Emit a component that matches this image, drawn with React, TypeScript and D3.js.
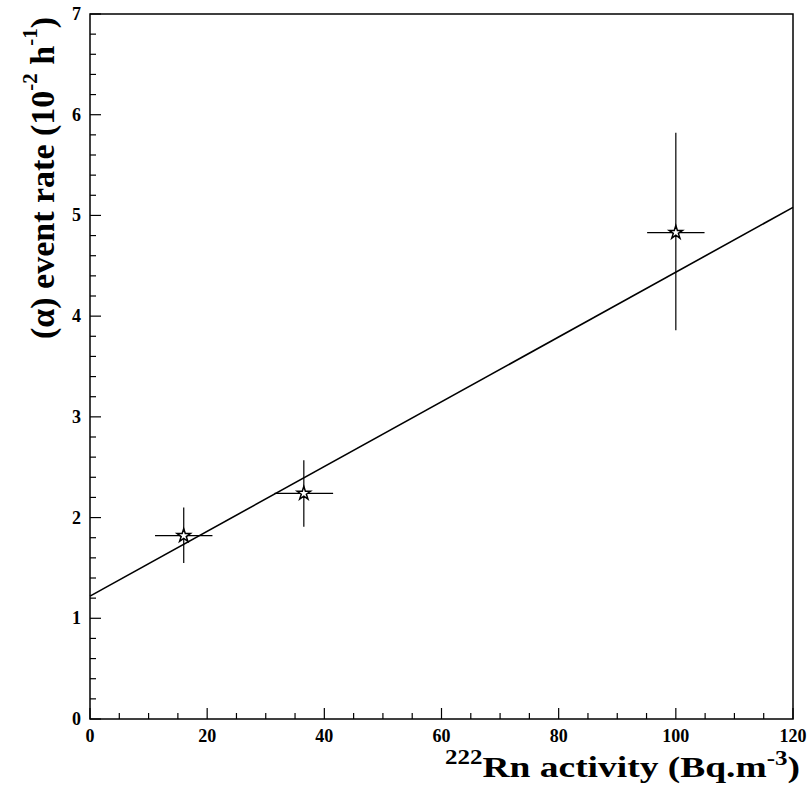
import * as d3 from 'd3'

const W = 808
const H = 797
const X0 = 90
const X1 = 793
const Y0 = 719
const Y1 = 14

// Data
const rnActivity = [16, 36.5, 100]
const rnErr = [4.9, 5, 4.9]
const eventRate = [1.82, 2.24, 4.83]
const rateLow = [1.55, 1.91, 3.86]
const rateHigh = [2.1, 2.57, 5.82]
const fitX = [0, 120]
const fitY = [1.22, 5.08]
const xTicks = [0, 20, 40, 60, 80, 100, 120]
const yTicks = [0, 1, 2, 3, 4, 5, 6, 7]

const FONT = '"Liberation Serif", "DejaVu Serif", serif'

const x = d3.scaleLinear().domain([0, 120]).range([X0, X1])
const y = d3.scaleLinear().domain([0, 7]).range([Y0, Y1])

export default function App() {
  const xMinor = d3.range(0, 120.001, 5)
  const yMinor = d3.range(0, 7.001, 0.2)
  const star = d3.symbol(d3.symbolStar, 55)()
  const line = d3.line<number>().x((d, i) => x(fitX[i])).y((d) => y(d))

  return (
    <svg width={W} height={H} style={{ position: 'absolute', left: 0, top: 0, background: '#fff' }}>
      {/* frame */}
      <rect x={X0} y={Y1} width={X1 - X0} height={Y0 - Y1} fill="none" stroke="#000" strokeWidth={1.5} />

      {/* x ticks (inward) */}
      {xMinor.map((v) => {
        const major = v % 20 === 0
        return (
          <line key={'xm' + v} x1={x(v)} x2={x(v)} y1={Y0} y2={Y0 - (major ? 11 : 6)} stroke="#000" strokeWidth={1.2} />
        )
      })}
      {/* y ticks (inward) */}
      {yMinor.map((v, i) => {
        const major = i % 5 === 0
        return (
          <line key={'ym' + i} x1={X0} x2={X0 + (major ? 11 : 6)} y1={y(v)} y2={y(v)} stroke="#000" strokeWidth={1.2} />
        )
      })}

      {/* tick labels */}
      {xTicks.map((v) => (
        <text key={'xl' + v} x={x(v)} y={742} textAnchor="middle" fontFamily={FONT} fontWeight="bold" fontSize={18}>
          {v}
        </text>
      ))}
      {yTicks.map((v) => (
        <text key={'yl' + v} x={81} y={y(v) + 6} textAnchor="end" fontFamily={FONT} fontWeight="bold" fontSize={18}>
          {v}
        </text>
      ))}

      {/* fit line */}
      <path d={line(fitY) || ''} fill="none" stroke="#000" strokeWidth={1.6} />

      {/* error bars and markers */}
      {rnActivity.map((v, i) => (
        <g key={'pt' + i}>
          <line x1={x(v - rnErr[i])} x2={x(v + rnErr[i])} y1={y(eventRate[i])} y2={y(eventRate[i])} stroke="#000" strokeWidth={1.2} />
          <line x1={x(v)} x2={x(v)} y1={y(rateLow[i])} y2={y(rateHigh[i])} stroke="#000" strokeWidth={1.2} />
          <path d={star || ''} transform={`translate(${x(v)},${y(eventRate[i])})`} fill="#fff" stroke="#000" strokeWidth={1.5} />
        </g>
      ))}

      {/* y title */}
      <text transform="translate(54,178) rotate(-90)" textAnchor="middle" fontFamily={FONT} fontWeight="bold" fontSize={34}>
        (α) event rate (10<tspan fontSize={21} dy={-17}>-2</tspan>
        <tspan dy={17}> h</tspan>
        <tspan fontSize={21} dy={-17}>-1</tspan>
        <tspan dy={17}>)</tspan>
      </text>

      {/* x title */}
      <text transform="translate(800,777) scale(1.25,1)" textAnchor="end" fontFamily={FONT} fontWeight="bold" fontSize={30}>
        <tspan fontSize={20} dy={-13}>222</tspan>
        <tspan dy={13}>Rn activity (Bq.m</tspan>
        <tspan fontSize={20} dy={-12}>-3</tspan>
        <tspan dy={12}>)</tspan>
      </text>
    </svg>
  )
}
